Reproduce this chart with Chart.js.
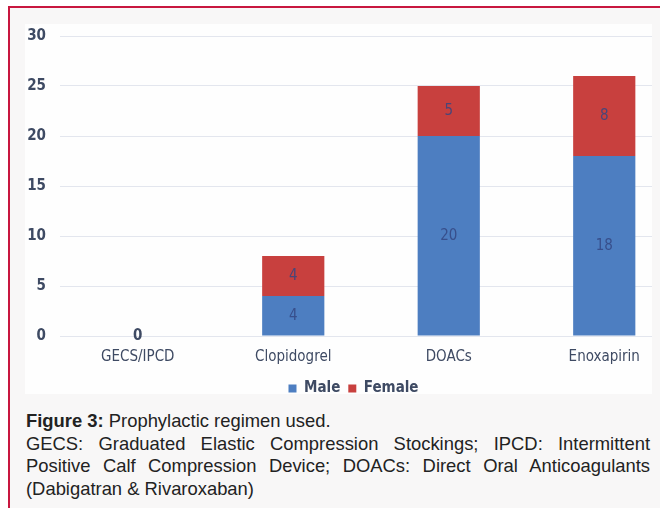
<!DOCTYPE html>
<html><head><meta charset="utf-8">
<script src="https://cdn.jsdelivr.net/npm/chart.js@4"></script>
<style>
html,body{margin:0;padding:0;background:#fff;width:660px;height:508px;overflow:hidden}
#frame{position:absolute;left:8px;top:6px;width:660px;height:510px;border-top:2px solid #c8173f;border-left:2px solid #c8173f;background:#f8f7f7}
#panel{position:absolute;left:25px;top:24px;width:627px;height:370px;overflow:hidden;background:#fefefe}
#wrap{position:absolute;left:0;top:-11px;width:657px;height:393px}
#cap{position:absolute;left:26px;top:410px;width:624px;font-family:"Liberation Sans",Arial,sans-serif;font-size:18.4px;line-height:22.5px;color:#222}
#cap .j{text-align:justify;text-align-last:justify}
</style></head>
<body>
<div id="frame"></div>
<div id="panel"><div id="wrap"><canvas id="c"></canvas></div></div>
<div id="cap">
<div><b>Figure 3:</b> Prophylactic regimen used.</div>
<div class="j">GECS: Graduated Elastic Compression Stockings; IPCD: Intermittent</div>
<div class="j">Positive Calf Compression Device; DOACs: Direct Oral Anticoagulants</div>
<div>(Dabigatran &amp; Rivaroxaban)</div>
</div>
<script>
const categories = ["GECS/IPCD", "Clopidogrel", "DOACs", "Enoxapirin"];
const maleValues = [0, 4, 20, 18];
const femaleValues = [0, 4, 5, 8];
const yTicks = [0, 5, 10, 15, 20, 25, 30];

const FONT = '"Liberation Sans Narrow","DejaVu Sans Condensed","Liberation Sans",sans-serif';
const TXT = '#3e4a63';

const labelPlugin = {
  id: 'barLabels',
  afterDatasetsDraw(chart) {
    const ctx = chart.ctx;
    ctx.save();
    ctx.textAlign = 'center';
    ctx.textBaseline = 'middle';
    chart.data.datasets.forEach((ds, di) => {
      const meta = chart.getDatasetMeta(di);
      meta.data.forEach((bar, i) => {
        const v = ds.data[i];
        if (v === 0 && di !== 0) return;
        const yMid = v === 0 ? bar.y : (bar.y + bar.base) / 2;
        if (v === 0) {
          ctx.fillStyle = TXT;
          ctx.font = 'bold 15px ' + FONT;
        } else {
          ctx.fillStyle = 'rgba(52,70,130,0.85)';
          ctx.font = '15px ' + FONT;
        }
        ctx.fillText(String(v), bar.x, yMid);
      });
    });
    ctx.restore();
  }
};

new Chart(document.getElementById('c'), {
  type: 'bar',
  data: {
    labels: categories,
    datasets: [
      { label: 'Male', data: maleValues, backgroundColor: '#4d7ec1', barPercentage: 0.4, categoryPercentage: 1 },
      { label: 'Female', data: femaleValues, backgroundColor: '#c8403e', barPercentage: 0.4, categoryPercentage: 1 }
    ]
  },
  options: {
    responsive: true,
    maintainAspectRatio: false,
    animation: false,
    layout: { padding: { top: 9, left: 0, right: 0, bottom: 0 } },
    plugins: {
      tooltip: { enabled: false },
      legend: {
        position: 'bottom',
        labels: { boxWidth: 8, boxHeight: 8, padding: 8, color: TXT, font: { family: FONT, size: 15, weight: 'bold' } }
      }
    },
    scales: {
      x: {
        stacked: true,
        grid: { display: false, drawTicks: false },
        border: { display: false },
        ticks: { color: TXT, padding: 12, font: { family: FONT, size: 15 } },
        afterFit(s) { s.height = 37; }
      },
      y: {
        stacked: true,
        min: 0, max: 30,
        afterBuildTicks(s) { s.ticks = yTicks.map(v => ({ value: v })); },
        grid: { color: '#e3e6ee', drawTicks: false },
        border: { display: false },
        ticks: { color: TXT, padding: 14, font: { family: FONT, size: 15, weight: 'bold' } },
        afterFit(s) { s.width = 35; }
      }
    }
  },
  plugins: [labelPlugin]
});
</script>
</body></html>
